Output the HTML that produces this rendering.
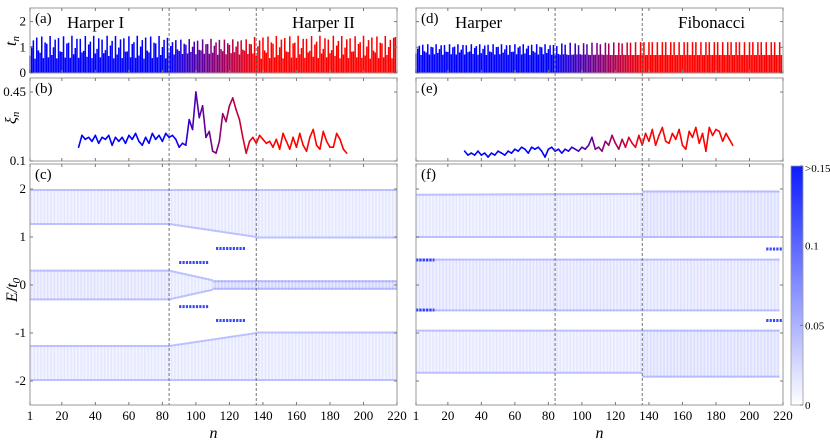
<!DOCTYPE html>
<html><head><meta charset="utf-8">
<style>
body{margin:0;background:#fff;}
svg{display:block;font-family:"Liberation Serif",serif;}
</style></head>
<body>
<svg id="fig" width="830" height="442" viewBox="0 0 830 442" xmlns="http://www.w3.org/2000/svg">
<defs>
<pattern id="stripes" width="3.35" height="4" patternUnits="userSpaceOnUse">
<rect x="0" y="0" width="1.6" height="4" fill="#4050ff" opacity="0.35"/>
</pattern>
<linearGradient id="cbar" x1="0" y1="1" x2="0" y2="0">
<stop offset="0" stop-color="#ffffff"/><stop offset="1" stop-color="#0a1cff"/>
</linearGradient>
</defs>
</svg>
<script>
// ---------- data ----------
const tLeft = [
0.67,1.04,1.27,0.56,1.38,0.88,0.79,1.42,0.58,1.19,1.14,0.61,1.44,
0.70,1.00,1.30,0.57,1.36,0.84,0.82,1.43,0.60,1.15,1.18,0.59,1.45,
0.73,0.97,1.33,0.59,1.33,0.80,0.86,1.44,0.63,1.11,1.22,0.58,1.45,
0.76,0.94,1.35,0.61,1.30,0.77,0.89,1.45,0.66,1.07,1.25,0.57,1.44,
0.72,0.99,1.31,0.58,1.35,0.83,0.84,1.43,0.61,1.13,1.20,0.59,1.45,
0.68,1.03,1.28,0.56,1.38,0.87,0.80,1.42,0.58,1.18,1.15,0.61,1.44,
0.70,1.01,1.29,0.57,1.37,
0.80,1.05,1.20,0.72,1.28,0.92,0.86,1.30,0.74,1.14,1.10,0.76,1.32,
0.82,1.02,1.22,0.73,1.26,0.90,0.88,1.31,0.75,1.12,1.13,0.75,1.33,
0.79,1.06,1.19,0.71,1.29,0.93,0.85,1.30,0.73,1.16,1.09,0.77,1.31,
0.81,1.03,1.23,0.72,1.27,0.91,0.87,1.31,0.74,1.13,1.12,0.76,1.40,
0.67,1.04,1.27,0.56,1.38,0.88,0.79,1.42,0.58,1.19,1.14,0.61,1.44,
0.70,1.00,1.30,0.57,1.36,0.84,0.82,1.43,0.60,1.15,1.18,0.59,1.45,
0.73,0.97,1.33,0.59,1.33,0.80,0.86,1.44,0.63,1.11,1.22,0.58,1.45,
0.76,0.94,1.35,0.61,1.30,0.77,0.89,1.45,0.66,1.07,1.25,0.57,1.44,
0.72,0.99,1.31,0.58,1.35,0.83,0.84,1.43,0.61,1.13,1.20,0.59,1.45,
0.68,1.03,1.28,0.56,1.38,0.87,0.80,1.42,0.58,1.18,1.15,0.61,1.44,
0.70,1.01,1.29,0.57,1.37,1.40];
const tRight = [
0.76,0.95,1.06,0.70,1.10,0.85,0.80,1.12,0.72,1.02,1.00,0.73,1.12,
0.78,0.93,1.08,0.71,1.09,0.83,0.82,1.12,0.73,1.00,1.03,0.72,1.12,
0.80,0.91,1.09,0.72,1.08,0.81,0.84,1.12,0.74,0.98,1.05,0.71,1.12,
0.77,0.94,1.07,0.70,1.10,0.84,0.81,1.12,0.72,1.01,1.02,0.73,1.12,
0.79,0.92,1.08,0.71,1.09,0.82,0.83,1.12,0.73,0.99,1.04,0.72,1.12,
0.76,0.95,1.06,0.70,1.10,0.85,0.80,1.12,0.72,1.02,1.00,0.73,1.12,
0.78,0.93,1.08,0.71,1.09,
0.72,1.05,0.74,0.71,1.15,0.73,1.10,0.72,0.70,1.18,0.71,0.72,1.15,
0.72,1.08,0.73,0.71,1.16,0.72,1.12,0.71,0.70,1.18,0.71,0.71,1.17,
0.71,1.12,0.72,0.70,1.18,0.71,1.15,0.70,0.70,1.19,0.70,0.70,1.18,
0.70,1.15,0.71,0.70,1.19,0.70,1.18,0.70,0.70,1.20,0.70,0.70,1.20,
0.70,1.20,0.70,0.70,1.20,0.70,1.20,0.70,0.70,1.20,0.70,0.70,1.20,
0.70,1.20,0.70,0.70,1.20,0.70,1.20,0.70,0.70,1.20,0.70,0.70,1.20,
0.70,1.20,0.70,0.70,1.20,0.70,1.20,0.70,0.70,1.20,0.70,0.70,1.20,
0.70,1.20,0.70,0.70,1.20,0.70,1.20,0.70,0.70,1.20,0.70,0.70,1.20,
0.70,1.20,0.70,0.70,1.20,0.70,1.20,0.70,0.70,1.20,0.70,0.70,1.20,
0.70,1.20,0.70,0.70,1.20,0.70,1.20,0.70,0.70,1.20,0.70,0.70,1.20,
0.70,1.20,0.70,0.70,1.20,0.70];
const xiN = [30,32,34,36,38,40,42,44,46,48,50,52,54,56,58,60,62,64,66,68,70,72,74,76,78,80,82,84,
86,88,90,92,94,96,98,100,102,104,106,108,110,112,114,116,118,120,122,124,126,128,130,132,134,136,
138,140,142,144,146,148,150,152,154,156,158,160,162,164,166,168,170,172,174,176,178,180,182,184,186,188,190];
const xiLeft = [0.17,0.23,0.21,0.22,0.20,0.23,0.19,0.22,0.21,0.23,0.18,0.22,0.20,0.22,0.19,0.23,0.21,0.24,0.20,0.18,0.22,0.19,0.24,0.21,0.23,0.20,0.24,0.22,
0.23,0.21,0.17,0.19,0.18,0.31,0.26,0.45,0.32,0.38,0.22,0.25,0.15,0.14,0.20,0.34,0.30,0.38,0.42,0.36,0.31,0.22,0.14,0.20,0.22,0.19,
0.23,0.21,0.19,0.20,0.17,0.21,0.16,0.24,0.20,0.16,0.22,0.17,0.24,0.18,0.15,0.22,0.26,0.18,0.16,0.25,0.20,0.17,0.17,0.24,0.21,0.16,0.14];
const xiRight = [0.15,0.13,0.14,0.13,0.15,0.13,0.14,0.12,0.14,0.13,0.15,0.14,0.13,0.15,0.14,0.16,0.15,0.17,0.16,0.14,0.17,0.16,0.17,0.15,0.12,0.16,0.17,0.15,
0.16,0.14,0.16,0.15,0.17,0.16,0.15,0.17,0.16,0.18,0.22,0.16,0.17,0.15,0.20,0.18,0.23,0.19,0.16,0.21,0.17,0.22,0.19,0.17,0.23,0.18,
0.24,0.20,0.26,0.18,0.23,0.27,0.20,0.19,0.24,0.21,0.26,0.18,0.16,0.25,0.22,0.27,0.19,0.24,0.15,0.27,0.23,0.26,0.25,0.20,0.24,0.21,0.18];
// bands: [n0, n1, Etop(at n0), Etop(at n1), Ebot(at n0), Ebot(at n1), intensity]
const bandsLeft = [
[1,84,2.0,2.0,1.25,1.25,0.5],[84,136,2.0,2.0,1.25,0.98,0.5],[136,220,2.0,2.0,0.97,0.97,0.5],
[1,84,-1.25,-1.25,-2.0,-2.0,0.5],[84,136,-1.25,-0.98,-2.0,-2.0,0.5],[136,220,-0.97,-0.97,-2.0,-2.0,0.5],
[1,84,0.32,0.32,-0.32,-0.32,0.6],[84,110,0.32,0.12,-0.32,-0.12,0.5],[110,220,0.1,0.1,-0.1,-0.1,0.9],
[90,108,0.47,0.47,0.47,0.47,1.0],[90,108,-0.45,-0.45,-0.45,-0.45,1.0],
[112,130,0.76,0.76,0.76,0.76,1.0],[112,130,-0.74,-0.74,-0.74,-0.74,1.0]];
const bandsRight = [
[1,136,1.9,1.92,0.98,0.98,0.5],[136,218,1.97,1.97,0.98,0.98,0.7],
[1,218,0.55,0.55,-0.55,-0.55,0.6],
[1,136,-0.93,-0.93,-1.85,-1.85,0.5],[136,218,-0.93,-0.93,-1.93,-1.93,0.7],
[1,12,0.52,0.52,0.52,0.52,1.0],[1,12,-0.52,-0.52,-0.52,-0.52,1.0],
[210,220,0.75,0.75,0.75,0.75,1.0],[210,220,-0.74,-0.74,-0.74,-0.74,1.0]];
const nTicks = [1,20,40,60,80,100,120,140,160,180,200,220];
const tTicks = [0,1,2];
const xiTicks = [0.1,0.45];
const eTicks = [-2,-1,0,1,2];
const cbTicks = [0,0.05,0.1,0.15];
const cbLabels = ["0","0.05","0.1",">0.15"];

// ---------- geometry ----------
const NS="http://www.w3.org/2000/svg";
const svg=document.getElementById('fig');
function el(tag,attrs,parent){const e=document.createElementNS(NS,tag);for(const k in attrs)e.setAttribute(k,attrs[k]);(parent||svg).appendChild(e);return e;}
const cols=[{x0:30,x1:397,name:'left'},{x0:416,x1:783,name:'right'}];
const rows={a:[8,73],b:[78,161],c:[164,405]};
function xs(col,n){return col.x0+(n-1)*(col.x1-col.x0)/219;}
function yT(t){return 73-t*25.7;}
function yXi(v){return 161-(v-0.1)*197;}
function yE(E){return 285-E*48;}
function colorN(n){let f=(n-84)/(136-84);f=Math.max(0,Math.min(1,f));return `rgb(${Math.round(255*f)},0,${Math.round(255*(1-f))})`;}

cols.forEach((col,ci)=>{
  const g=el('g',{});
  
  
  const tv = ci===0?tLeft:tRight;
  const bw=(col.x1-col.x0)/219;
  const bars=el('g',{},g);
  
  
  tv.forEach((t,i)=>{const n=i+1;const r=el('rect',{x:xs(col,n)-bw/2+0.1,y:yT(t),width:bw-0.15,height:73-yT(t),fill:colorN(n)},bars);
    
    });
  const xv = ci===0?xiLeft:xiRight;
  const ln=el('g',{},g);
  
  
  for(let i=0;i<xv.length-1;i++){
    const s=el('line',{x1:xs(col,xiN[i]),y1:yXi(xv[i]),x2:xs(col,xiN[i+1]),y2:yXi(xv[i+1]),stroke:colorN(xiN[i]),'stroke-width':1.6,'stroke-linecap':'round'},ln);
    
    
  }
  const hm=el('g',{},g);
  
  
  (ci===0?bandsLeft:bandsRight).forEach(b=>{
    const [n0,n1,t0,t1,b0,b1,I]=b;
    if(I>=1){
      const p3=el('line',{x1:xs(col,n0),y1:yE(t0),x2:xs(col,n1),y2:yE(t0),stroke:'#1428ff','stroke-width':3,'stroke-dasharray':'2.2,1.15',opacity:0.85},hm);
      
      
      return;
    }
    const pts=`${xs(col,n0)},${yE(t0)} ${xs(col,n1)},${yE(t1)} ${xs(col,n1)},${yE(b1)} ${xs(col,n0)},${yE(b0)}`;
    const p=el('polygon',{points:pts,fill:'#2a3cff',opacity:(0.12*I).toFixed(3)},hm);
    
    
    const p2=el('polygon',{points:pts,fill:'url(#stripes)',opacity:(0.45*I).toFixed(3)},hm);
    
    
    const e1=el('line',{x1:xs(col,n0),y1:yE(t0)+1,x2:xs(col,n1),y2:yE(t1)+1,stroke:'#3040ff','stroke-width':2,opacity:0.25},hm);
    
    
    const e2=el('line',{x1:xs(col,n0),y1:yE(b0)-1,x2:xs(col,n1),y2:yE(b1)-1,stroke:'#3040ff','stroke-width':2,opacity:0.25},hm);
    
    
  });
  [['a',rows.a],['b',rows.b],['c',rows.c]].forEach(([k,r],ri)=>{
    const key=ci?String.fromCharCode(k.charCodeAt(0)+3):k;
    const fr=el('rect',{x:col.x0,y:r[0],width:col.x1-col.x0,height:r[1]-r[0],fill:'none',stroke:'#999','stroke-width':1},g);
    
    
    nTicks.forEach(n=>{const x=xs(col,n);
      el('line',{x1:x,y1:r[0],x2:x,y2:r[0]+3,stroke:'#777'},g);
      el('line',{x1:x,y1:r[1],x2:x,y2:r[1]-3,stroke:'#777'},g);});
    const yt = ri===0?tTicks.map(yT):ri===1?xiTicks.map(yXi):eTicks.map(yE);
    yt.forEach(y=>{el('line',{x1:col.x0,y1:y,x2:col.x0+3,y2:y,stroke:'#777'},g);el('line',{x1:col.x1,y1:y,x2:col.x1-3,y2:y,stroke:'#777'},g);});
    const lab=el('text',{x:col.x0+5,y:r[0]+15,'font-size':15},g);
    lab.textContent='('+key+')';
    
    
  });
  [84,136].forEach(n=>{const d=el('line',{x1:xs(col,n),y1:rows.a[0],x2:xs(col,n),y2:rows.c[1],stroke:'#666','stroke-dasharray':'3,2','stroke-width':0.9},g);
    
    });
  nTicks.forEach(n=>{const t=el('text',{x:xs(col,n),y:420,'font-size':13,'text-anchor':'middle'},g);t.textContent=n;
    
    });
  const xl=el('text',{x:(col.x0+col.x1)/2,y:438,'font-size':16,'font-style':'italic','text-anchor':'middle'},g);
  xl.textContent='n';
  
  
});
function txt(x,y,s,size,attrs,name){const t=el('text',Object.assign({x:x,y:y,'font-size':size},attrs||{}));t.textContent=s;
  
  return t;}
tTicks.forEach(v=>txt(26,yT(v)+4,String(v),13,{'text-anchor':'end'},'t-tick-label'));
txt(26,yXi(0.45)+4,'0.45',13,{'text-anchor':'end'},'xi-tick-label');
txt(26,yXi(0.1)+4,'0.1',13,{'text-anchor':'end'},'xi-tick-label');
eTicks.forEach(v=>txt(26,yE(v)+4,String(v),13,{'text-anchor':'end'},'e-tick-label'));
const ty=txt(0,0,'',16,{transform:'translate(16,46) rotate(-90)','font-style':'italic'},'t-axis-title');
ty.innerHTML='t<tspan font-size="11" dy="3">n</tspan>';
const xy=txt(0,0,'',16,{transform:'translate(16,124) rotate(-90)','font-style':'italic'},'xi-axis-title');
xy.innerHTML='ξ<tspan font-size="11" dy="3">n</tspan>';
const ey=txt(0,0,'',16,{transform:'translate(17,302) rotate(-90)','font-style':'italic'},'e-axis-title');
ey.innerHTML='E/t<tspan font-size="11" dy="3">0</tspan>';
txt(67,28,'Harper I',17,{},'harper-i-label');
txt(292,28,'Harper II',17,{},'harper-ii-label');
txt(455,28,'Harper',17,{},'harper-label');
txt(678,28,'Fibonacci',17,{},'fibonacci-label');
const cb=el('rect',{x:791,y:166,width:12,height:239,fill:'url(#cbar)',stroke:'#999','stroke-width':0.8});


cbTicks.forEach((v,i)=>{const y=405-v/0.15*239;
  el('line',{x1:800,y1:y,x2:803,y2:y,stroke:'#777'});
  txt(805,y+(i===3?6:4),cbLabels[i],11,{},'colorbar-tick-label');});
</script>
</body></html>
